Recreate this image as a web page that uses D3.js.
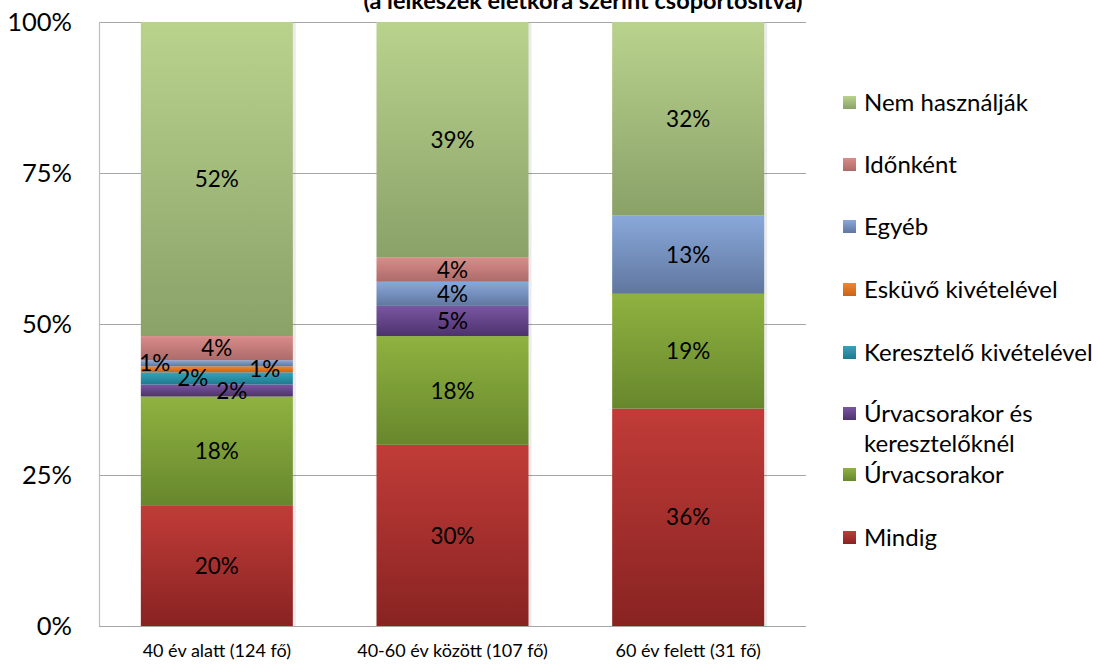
<!DOCTYPE html>
<html><head><meta charset="utf-8">
<script src="https://cdn.jsdelivr.net/npm/d3@7"></script>
<style>body{margin:0;background:#fff}svg{display:block}text{font-family:Lato,"Open Sans",sans-serif}</style>
</head><body><svg id="c" width="1098" height="664"></svg>
<script>
const categories = ["40 év alatt (124 fő)", "40-60 év között (107 fő)", "60 év felett (31 fő)"];
const seriesNames = ["Mindig", "Úrvacsorakor", "Úrvacsorakor és keresztelőknél", "Keresztelő kivételével", "Esküvő kivételével", "Egyéb", "Időnként", "Nem használják"];
const mindig = [20, 30, 36];
const urvacsorakor = [18, 18, 19];
const urvacsEsKeresztelo = [2, 5, 0];
const kereszteloKivetelevel = [2, 0, 0];
const eskuvoKivetelevel = [1, 0, 0];
const egyeb = [1, 4, 13];
const idonkent = [4, 4, 0];
const nemHasznaljak = [52, 39, 32];
const yTicks = [0, 25, 50, 75, 100];
const title = "(a lelkészek életkora szerint csoportosítva)";

const seriesValues = [mindig, urvacsorakor, urvacsEsKeresztelo, kereszteloKivetelevel, eskuvoKivetelevel, egyeb, idonkent, nemHasznaljak];
const colorsTop = ["#c13c38", "#8fb240", "#7a56a2", "#33a3bb", "#f4862c", "#89a8da", "#da8c8a", "#b9d38d"];
const colorsBot = ["#882322", "#67872c", "#4d326d", "#1f7a8e", "#c8621a", "#60779f", "#ab6b69", "#8aa168"];
const legendNames = ["Nem használják", "Időnként", "Egyéb", "Esküvő kivételével", "Keresztelő kivételével", ["Úrvacsorakor és", "keresztelőknél"], "Úrvacsorakor", "Mindig"];
// manual label nudges for crowded first bar (category-series -> dx)
const labelNudge = {"0-5": -62, "0-4": 48, "0-3": -24, "0-2": 15};

const svg = d3.select("#c");
const defs = svg.append("defs");
colorsTop.forEach((c, i) => {
  const g = defs.append("linearGradient").attr("id", "g" + i).attr("x1", 0).attr("y1", 0).attr("x2", 0).attr("y2", 1);
  g.append("stop").attr("offset", "0%").attr("stop-color", c);
  g.append("stop").attr("offset", "100%").attr("stop-color", colorsBot[i]);
});

const pL = 99, pR = 806, pT = 22, pB = 626;
const x = d3.scaleBand().domain(categories).range([pL, pR]).paddingInner(0.355).paddingOuter(0.1775);
const y = d3.scaleLinear().domain([0, 100]).range([pB, pT]);

svg.append("text").attr("x", 583).attr("y", 9).attr("text-anchor", "middle")
  .attr("font-size", 23.5).attr("font-weight", "bold").attr("fill", "#000").text(title);

svg.append("g").selectAll("line").data(yTicks).join("line")
  .attr("x1", pL).attr("x2", pR).attr("y1", d => y(d) + 0.5).attr("y2", d => y(d) + 0.5)
  .attr("stroke", "#a6a6a6").attr("stroke-width", 1.2);
svg.append("line").attr("x1", pL + 0.5).attr("x2", pL + 0.5).attr("y1", pT).attr("y2", pB)
  .attr("stroke", "#bdbdbd").attr("stroke-width", 1.2);

svg.append("g").selectAll("text").data(yTicks).join("text")
  .attr("x", 72).attr("y", d => y(d)).attr("dy", "0.36em").attr("text-anchor", "end")
  .attr("font-size", 25.5).attr("fill", "#000").text(d => d + "%");

const table = categories.map((c, ci) => {
  const o = {cat: c};
  seriesNames.forEach((s, si) => o[s] = seriesValues[si][ci]);
  return o;
});
const stacked = d3.stack().keys(seriesNames)(table);

svg.append("g").selectAll("rect").data(categories).join("rect")
  .attr("x", d => x(d) + 2).attr("y", y(100) + 1).attr("width", x.bandwidth() + 1).attr("height", y(0) - y(100) - 1)
  .attr("fill", "#000").attr("opacity", 0.08);

const gBars = svg.append("g");
stacked.forEach((layer, si) => {
  gBars.append("g").selectAll("rect").data(layer.filter(d => d[1] - d[0] > 0)).join("rect")
    .attr("x", d => x(d.data.cat)).attr("width", x.bandwidth())
    .attr("y", d => y(d[1])).attr("height", d => y(d[0]) - y(d[1]))
    .attr("fill", `url(#g${si})`);
});

const gLab = svg.append("g");
stacked.forEach((layer, si) => {
  layer.forEach((d, ci) => {
    const v = d[1] - d[0];
    if (v <= 0) return;
    const dx = labelNudge[ci + "-" + si] || 0;
    gLab.append("text").attr("x", x(d.data.cat) + x.bandwidth() / 2 + dx)
      .attr("y", y((d[0] + d[1]) / 2)).attr("dy", "0.36em").attr("text-anchor", "middle")
      .attr("font-size", 22.5).attr("fill", "#000").text(v + "%");
  });
});

svg.append("g").selectAll("text").data(categories).join("text")
  .attr("x", d => x(d) + x.bandwidth() / 2).attr("y", 651).attr("dy", "0.36em").attr("text-anchor", "middle")
  .attr("font-size", 18).attr("fill", "#000").text(d => d);

const legY = [102, 164, 226, 289, 352, 413, 474, 537];
const legIdx = [7, 6, 5, 4, 3, 2, 1, 0];
const leg = svg.append("g");
legendNames.forEach((n, i) => {
  const cy = legY[i];
  leg.append("rect").attr("x", 843).attr("y", cy - 6).attr("width", 13).attr("height", 13)
    .attr("fill", `url(#g${legIdx[i]})`);
  const t = leg.append("text").attr("x", 864).attr("y", cy).attr("font-size", 24).attr("fill", "#000");
  if (Array.isArray(n)) {
    n.forEach((line, li) => t.append("tspan").attr("x", 864).attr("dy", li === 0 ? "0.36em" : "30px").text(line));
  } else t.attr("dy", "0.36em").text(n);
});
</script></body></html>
